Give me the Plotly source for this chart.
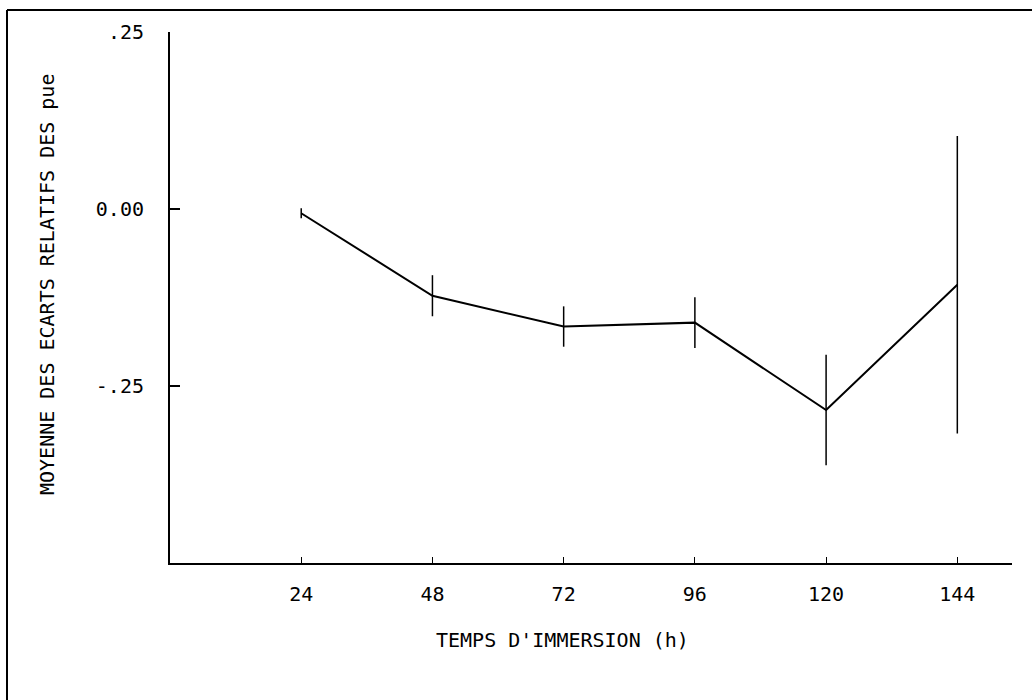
import plotly.graph_objects as go

# Immersion time (h) and mean relative deviation with its half-spread
hours = [24, 48, 72, 96, 120, 144]
mean_dev = [-0.006, -0.1225, -0.166, -0.1605, -0.284, -0.107]
spread = [0.007, 0.029, 0.0285, 0.036, 0.078, 0.21]

y_tick_vals = [0.25, 0.0, -0.25]
y_tick_text = [".25", "0.00", "-.25"]
x_tick_vals = [24, 48, 72, 96, 120, 144]
x_tick_text = ["24", "48", "72", "96", "120", "144"]

FONT = "DejaVu Sans Mono"
FS = 20
W, H = 1032, 700
L, R, T, B = 170, 20, 32, 137
PW, PH = W - L - R, H - T - B


def px_x(p):
    return (p - L) / PW


def px_y(p):
    return (H - B - p) / PH


fig = go.Figure()
fig.add_trace(go.Scatter(
    x=hours, y=mean_dev, mode="lines",
    line=dict(color="black", width=2),
    error_y=dict(type="data", array=spread, visible=True,
                 color="black", thickness=1.5, width=0),
    showlegend=False, hoverinfo="skip",
))

fig.update_layout(
    width=W, height=H,
    margin=dict(l=L, r=R, t=T, b=B, pad=0),
    paper_bgcolor="white", plot_bgcolor="white",
    font=dict(family=FONT, size=FS, color="black"),
    xaxis=dict(
        range=[0, 154], showgrid=False, zeroline=False,
        showline=True, linecolor="black", linewidth=2,
        ticks="inside", ticklen=6, tickwidth=1, tickcolor="black",
        tickvals=x_tick_vals, ticktext=x_tick_text,
        ticklabelstandoff=12,
    ),
    yaxis=dict(
        range=[-0.5, 0.25], showgrid=False, zeroline=False,
        showline=True, linecolor="black", linewidth=2,
        ticks="inside", ticklen=10, tickwidth=2, tickcolor="black",
        tickvals=y_tick_vals, ticktext=y_tick_text,
        ticklabelstandoff=20,
    ),
    annotations=[
        dict(text="TEMPS D'IMMERSION (h)", xref="paper", yref="paper",
             x=px_x(562), y=px_y(640), showarrow=False,
             xanchor="center", yanchor="middle",
             font=dict(family=FONT, size=FS)),
        dict(text="MOYENNE DES ECARTS RELATIFS DES pue", xref="paper", yref="paper",
             x=px_x(47), y=px_y(285), showarrow=False, textangle=-90,
             xanchor="center", yanchor="middle",
             font=dict(family=FONT, size=FS)),
    ],
    shapes=[
        # outer frame: top and left edges
        dict(type="line", xref="paper", yref="paper",
             x0=px_x(7), x1=px_x(W), y0=px_y(10), y1=px_y(10),
             line=dict(color="black", width=2)),
        dict(type="line", xref="paper", yref="paper",
             x0=px_x(7), x1=px_x(7), y0=px_y(10), y1=px_y(H),
             line=dict(color="black", width=2)),
    ],
)

fig.write_html("out.html")
